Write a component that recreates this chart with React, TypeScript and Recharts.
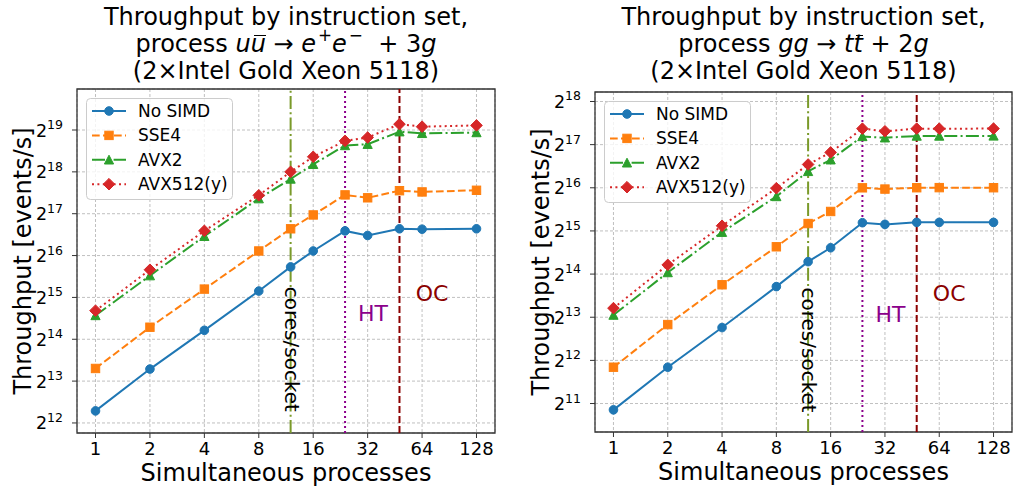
import React from "react";
import { LineChart, Line, XAxis, YAxis, CartesianGrid, ReferenceLine, ReferenceArea, Label } from "recharts";

// Simultaneous processes (x values shared by both panels)
const PROCESSES = [1, 2, 4, 8, 12, 16, 24, 32, 48, 64, 128];
const X_TICKS = [1, 2, 4, 8, 16, 32, 64, 128];

// process u ubar -> e+ e- + 3g, events/s
const UU_NO_SIMD = [5000, 10000, 19000, 36400, 54300, 70700, 98600, 91400, 102100, 101400, 102100];
const UU_SSE4 = [10100, 20000, 37600, 70700, 102100, 128400, 179000, 170600, 191900, 188000, 193200];
const UU_AVX2 = [24300, 47000, 90200, 168200, 233000, 297000, 405700, 414200, 509900, 496000, 502900];
const UU_AVX512 = [26300, 51800, 98700, 177800, 262100, 336400, 437800, 462800, 577700, 554200, 565800];
const UU_Y_EXPONENTS = [12, 13, 14, 15, 16, 17, 18, 19];

// process gg -> t tbar + 2g, events/s
const GG_NO_SIMD = [1850, 3670, 6940, 13400, 20000, 25000, 37400, 36400, 37600, 37600, 37600];
const GG_SSE4 = [3670, 7280, 13800, 25400, 36900, 44800, 65500, 64200, 65600, 65700, 65600];
const GG_AVX2 = [8480, 16800, 32100, 57000, 85300, 102800, 149500, 146400, 150600, 150600, 150800];
const GG_AVX512 = [9480, 19000, 35600, 65100, 95300, 115700, 169400, 162500, 169500, 169400, 169600];
const GG_Y_EXPONENTS = [11, 12, 13, 14, 15, 16, 17, 18];

// machine limits
const CORES_PER_SOCKET = 12;
const HYPERTHREADING = 24;
const OVERCOMMIT = 48;

const FONT = '"DejaVu Sans", sans-serif';

const SERIES = [
  { key: "noSimd", name: "No SIMD", color: "#1f77b4", dash: undefined, marker: "circle" },
  { key: "sse4", name: "SSE4", color: "#ff7f0e", dash: "7.7 3.3", marker: "square" },
  { key: "avx2", name: "AVX2", color: "#2ca02c", dash: "13 3.3 2 3.3", marker: "triangle" },
  { key: "avx512", name: "AVX512(y)", color: "#d62728", dash: "2 3.4", marker: "diamond" },
];

function buildRows(noSimd: number[], sse4: number[], avx2: number[], avx512: number[]) {
  return PROCESSES.map((n, i) => ({ n, noSimd: noSimd[i], sse4: sse4[i], avx2: avx2[i], avx512: avx512[i] }));
}

function Marker({ kind, cx, cy, color }: any) {
  if (kind === "circle") return <circle cx={cx} cy={cy} r={4.3} fill={color} stroke={color} />;
  if (kind === "square") return <rect x={cx - 4.2} y={cy - 4.2} width={8.4} height={8.4} fill={color} stroke={color} />;
  if (kind === "triangle")
    return <polygon points={`${cx},${cy - 4.6} ${cx - 4.6},${cy + 4.2} ${cx + 4.6},${cy + 4.2}`} fill={color} stroke={color} />;
  return <polygon points={`${cx},${cy - 5.8} ${cx + 5.8},${cy} ${cx},${cy + 5.8} ${cx - 5.8},${cy}`} fill={color} stroke={color} />;
}

const dotRenderer = (kind: string, color: string) => (p: any) => {
  if (p.cx == null || p.cy == null) return <g key={p.index} />;
  return <Marker key={p.index} kind={kind} cx={p.cx} cy={p.cy} color={color} />;
};

function PowerTick({ x, y, payload }: any) {
  const e = Math.round(Math.log2(payload.value));
  return (
    <text x={x} y={y + 6.5} textAnchor="end" fill="#000" fontFamily={FONT}>
      <tspan fontSize={17.5}>2</tspan>
      <tspan fontSize={12.5} dy={-7.5}>{e}</tspan>
    </text>
  );
}

function Legend({ left, top }: { left: number; top: number }) {
  return (
    <svg style={{ position: "absolute", left, top }} width={148} height={103}>
      <rect x={0.5} y={0.5} width={146} height={101} rx={4} fill="rgba(255,255,255,0.8)" stroke="#cccccc" />
      {SERIES.map((s, i) => {
        const cy = 13 + i * 24.4;
        return (
          <g key={s.key}>
            <line x1={6} x2={40} y1={cy} y2={cy} stroke={s.color} strokeWidth={2} strokeDasharray={s.dash} />
            <Marker kind={s.marker} cx={23} cy={cy} color={s.color} />
            <text x={52} y={cy + 6} fontSize={17} fontFamily={FONT} fill="#000">{s.name}</text>
          </g>
        );
      })}
    </svg>
  );
}

const supStyle: React.CSSProperties = { fontSize: "0.7em", lineHeight: 0, verticalAlign: "0.65em", marginLeft: "0.12em" };

// italic letter with a bar above it (mathtext \bar)
function Barred({ ch }: { ch: string }) {
  return (
    <i style={{ position: "relative" }}>
      {ch}
      <span
        style={{
          position: "absolute",
          left: "0.12em",
          right: "-0.02em",
          top: "0.2em",
          borderTop: "1.6px solid #000",
        }}
      />
    </i>
  );
}

function Panel({ left, plotLeft, plotTop, plotRight, plotBottom, yExp, yTop, yBottom, rows, process }: any) {
  const width = 507;
  const height = 488;
  const plotCenter = (plotLeft + width - plotRight) / 2;
  const xDomain = [Math.pow(2, -0.34), Math.pow(2, 7.34)];
  const yDomain = [Math.pow(2, yBottom), Math.pow(2, yTop)];
  const yTicks = yExp.map((e: number) => Math.pow(2, e));

  return (
    <div style={{ position: "absolute", left, top: 0, width, height }}>
      <div
        style={{
          position: "absolute",
          left: plotCenter - 260,
          top: 4,
          width: 520,
          textAlign: "center",
          fontFamily: FONT,
          fontSize: 24,
          lineHeight: "27px",
          color: "#000",
          whiteSpace: "nowrap",
        }}
      >
        <div>Throughput by instruction set,</div>
        <div>{process}</div>
        <div>(2×Intel Gold Xeon 5118)</div>
      </div>
      <LineChart
        width={width}
        height={height}
        data={rows}
        margin={{ top: plotTop, right: plotRight, bottom: 0, left: 0 }}
        style={{ position: "absolute", left: 0, top: 0 }}
      >
        <CartesianGrid stroke="#b0b0b0" strokeDasharray="3 2" strokeWidth={0.8} />
        <XAxis
          dataKey="n"
          type="number"
          scale="log"
          domain={xDomain}
          allowDataOverflow
          ticks={X_TICKS}
          height={height - plotBottom}
          axisLine={false}
          tickLine={{ stroke: "#333" }}
          tickSize={5}
          tickMargin={4}
          tick={{ fontSize: 18, fill: "#000", fontFamily: FONT }}
        >
          <Label
            content={(p: any) => {
              const vb = p.viewBox;
              return (
                <text x={vb.x + vb.width / 2} y={vb.y + 48} textAnchor="middle" fontSize={24} fontFamily={FONT} fill="#000">
                  Simultaneous processes
                </text>
              );
            }}
          />
        </XAxis>
        <YAxis
          type="number"
          scale="log"
          domain={yDomain}
          allowDataOverflow
          ticks={yTicks}
          width={plotLeft}
          axisLine={false}
          tickLine={{ stroke: "#333" }}
          tickSize={5}
          tickMargin={9}
          tick={<PowerTick />}
        >
          <Label
            content={(p: any) => {
              const vb = p.viewBox;
              const x = vb.x + vb.width - 46;
              const cy = vb.y + vb.height / 2;
              return (
                <text x={x} y={cy} transform={`rotate(-90, ${x}, ${cy})`} textAnchor="middle" fontSize={24} fontFamily={FONT} fill="#000">
                  Throughput [events/s]
                </text>
              );
            }}
          />
        </YAxis>
        <ReferenceLine
          x={CORES_PER_SOCKET}
          stroke="#7a9a2a"
          strokeWidth={2}
          strokeDasharray="13 3.3 2 3.3"
          label={(p: any) => {
            const vb = p.viewBox;
            const bx = vb.x - 6;
            const by = vb.y + 0.575 * vb.height;
            return (
              <text x={bx} y={by} transform={`rotate(90, ${bx}, ${by})`} fontSize={20} fontFamily={FONT} fill="#000">
                cores/socket
              </text>
            );
          }}
        />
        <ReferenceLine
          x={HYPERTHREADING}
          stroke="#8b008b"
          strokeWidth={2}
          strokeDasharray="2 3"
          label={(p: any) => {
            const vb = p.viewBox;
            return (
              <text x={vb.x + 28} y={vb.y + 0.675 * vb.height} textAnchor="middle" fontSize={22} fontFamily={FONT} fill="#8b008b">
                HT
              </text>
            );
          }}
        />
        <ReferenceLine
          x={OVERCOMMIT}
          stroke="#8b0000"
          strokeWidth={2}
          strokeDasharray="7 3"
          label={(p: any) => {
            const vb = p.viewBox;
            return (
              <text x={vb.x + 32.5} y={vb.y + 0.615 * vb.height} textAnchor="middle" fontSize={22} fontFamily={FONT} fill="#8b0000">
                OC
              </text>
            );
          }}
        />
        {SERIES.map((s) => (
          <Line
            key={s.key}
            dataKey={s.key}
            name={s.name}
            type="linear"
            stroke={s.color}
            strokeWidth={2}
            strokeDasharray={s.dash}
            dot={dotRenderer(s.marker, s.color)}
            activeDot={false}
            isAnimationActive={false}
          />
        ))}
        <ReferenceArea
          x1={xDomain[0]}
          x2={xDomain[1]}
          y1={yDomain[0]}
          y2={yDomain[1]}
          fill="none"
          stroke="#333"
          strokeWidth={1.3}
          ifOverflow="visible"
        />
      </LineChart>
      <Legend left={plotLeft + 9} top={plotTop + 9} />
    </div>
  );
}

export default function App() {
  const uuProcess = (
    <>
      process <i>u</i>
      <Barred ch="u" /> → <i>e</i>
      <span style={supStyle}>+</span>
      <i>e</i>
      <span style={supStyle}>−</span>
      {"\u00a0 + 3"}
      <i>g</i>
    </>
  );
  const ggProcess = (
    <>
      process <i>gg</i> → <i>t</i>
      <Barred ch="t" />
      {" + 2"}
      <i>g</i>
    </>
  );
  return (
    <div style={{ position: "absolute", left: 0, top: 0, width: 1014, height: 488, background: "#fff", overflow: "hidden" }}>
      <Panel
        left={0}
        plotLeft={77}
        plotTop={89}
        plotRight={12}
        plotBottom={433}
        yExp={UU_Y_EXPONENTS}
        yTop={19.98}
        yBottom={11.76}
        rows={buildRows(UU_NO_SIMD, UU_SSE4, UU_AVX2, UU_AVX512)}
        process={uuProcess}
      />
      <Panel
        left={507}
        plotLeft={88}
        plotTop={92}
        plotRight={2}
        plotBottom={432}
        yExp={GG_Y_EXPONENTS}
        yTop={18.22}
        yBottom={10.34}
        rows={buildRows(GG_NO_SIMD, GG_SSE4, GG_AVX2, GG_AVX512)}
        process={ggProcess}
      />
    </div>
  );
}
